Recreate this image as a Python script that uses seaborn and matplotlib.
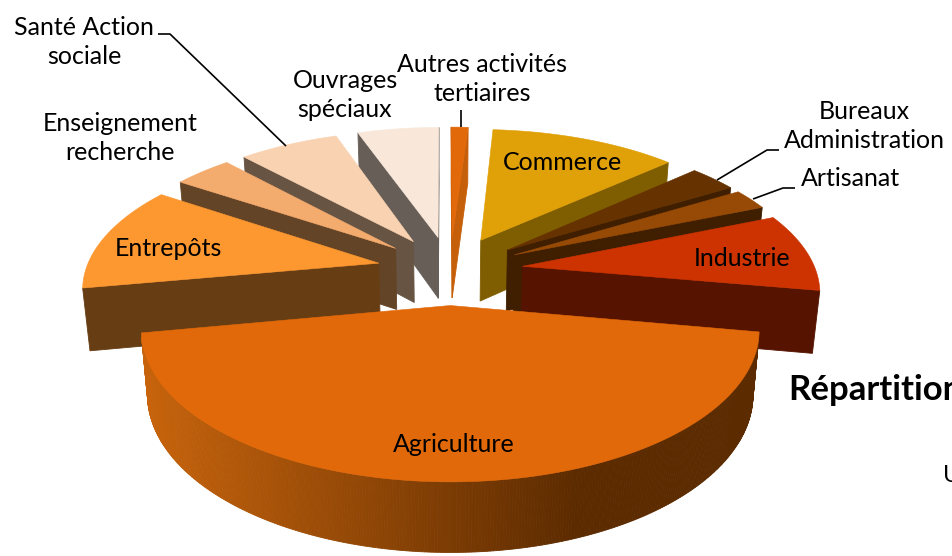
import numpy as np
import matplotlib
matplotlib.use('Agg')
import matplotlib.pyplot as plt
import seaborn as sns

# Parts (%), sens anti-horaire depuis Industrie
categories = ['Industrie', 'Artisanat', 'Bureaux Administration', 'Commerce',
              'Autres activités tertiaires', 'Ouvrages spéciaux',
              'Santé Action sociale', 'Enseignement recherche',
              'Entrepôts', 'Agriculture']
valeurs = [9.0, 2.4, 3.1, 12.2, 1.1, 5.3, 6.5, 3.8, 12.2, 44.3]

couleurs_dessus = ['#cc3300', '#974a05', '#653200', '#e0a008', '#e2690a',
                   '#f9e8da', '#f9d3b1', '#f4ab6e', '#fd9730', '#e2690a']
couleurs_cote = ['#551300', '#3f1f00', '#3f1f00', '#7f5e02', '#c55f0a',
                 '#675e57', '#675443', '#644426', '#673d14', '#5c2b00']

# Reglages de la vue en perspective
ANGLE_DEPART = -10
EXPLOSION = 0.25
CX, CY = 450, 270
FOCALE = 6.43
HAUTEUR = 878
UNITE = 293
EPAISSEUR = 62

sns.set_theme(style='white')
plt.rcParams['font.family'] = ['Lato', 'DejaVu Sans']


def projette(x, y, bas=False):
    """Plan du camembert -> pixels de l'image"""
    x, y = np.asarray(x, float), np.asarray(y, float)
    s = FOCALE / (FOCALE + y)
    px = CX + x * s * UNITE
    py = CY - HAUTEUR * y / (FOCALE + y)
    if bas:
        px = CX + (px - CX) * 0.98
        py = py + EPAISSEUR * s ** 0.6
    return px, py


def dessine_part(ax, debut, fin, dessus, cote, degrade=False):
    milieu = np.radians((debut + fin) / 2)
    ax0 = EXPLOSION * np.cos(milieu)
    ay0 = EXPLOSION * np.sin(milieu)
    t = np.radians(np.linspace(debut, fin, max(int(fin - debut) * 2, 8)))
    bx = np.r_[ax0, ax0 + np.cos(t)]
    by = np.r_[ay0, ay0 + np.sin(t)]
    hx, hy = projette(bx, by)
    lx, ly = projette(bx, by, bas=True)

    # faces laterales, du fond vers l'avant
    n = len(bx)
    faces = []
    for i in range(n):
        j = (i + 1) % n
        # on saute les faces tournees vers le fond
        aire = (hx[j] - hx[i]) * (ly[i] - hy[i]) - (hy[j] - hy[i]) * (lx[i] - hx[i])
        if aire < 0:
            continue
        faces.append(((by[i] + by[j]) / 2, i, j))
    for _, i, j in sorted(faces, reverse=True):
        coul = cote
        if degrade:
            f = np.clip((hx[i] - 140) / (575 - 140), 0, 1)
            c1 = np.array(matplotlib.colors.to_rgb('#c8640c'))
            c2 = np.array(matplotlib.colors.to_rgb(cote))
            coul = tuple(c1 + (c2 - c1) * f)
        ax.fill([hx[i], hx[j], lx[j], lx[i]], [hy[i], hy[j], ly[j], ly[i]],
                color=coul, lw=0.6)
    ax.fill(hx, hy, color=dessus, lw=0.4)


fig = plt.figure(figsize=(9.52, 5.56), dpi=100)
ax = fig.add_axes([0, 0, 1, 1])
ax.set_xlim(0, 952)
ax.set_ylim(556, 0)
ax.axis('off')

palette_dessus = sns.color_palette(couleurs_dessus)
palette_cote = sns.color_palette(couleurs_cote)

# angles de chaque part a partir des valeurs
parts = np.array(valeurs) / sum(valeurs) * 360
fins = ANGLE_DEPART + np.cumsum(parts)
debuts = fins - parts
milieux = np.radians((debuts + fins) / 2)

# on peint du fond vers l'avant
for k in np.argsort(-np.sin(milieux)):
    dessine_part(ax, debuts[k], fins[k], palette_dessus[k], palette_cote[k],
                 degrade=categories[k] == 'Agriculture')

# Traits de rappel
for xs, ys in [([158, 170, 286], [34, 34, 146]),
               ([779, 767, 717], [150, 150, 180]),
               ([795, 783, 753], [188, 188, 199]),
               ([461, 461], [110, 127])]:
    ax.plot(xs, ys, color='black', lw=1.2, solid_capstyle='butt')

# Etiquettes
taille = 18
etiquettes = [('Santé Action\nsociale', 84, 42), ('Enseignement\nrecherche', 120, 138),
              ('Ouvrages\nspéciaux', 345, 95), ('Autres activités\ntertiaires', 482, 79),
              ('Bureaux\nAdministration', 864, 126), ('Artisanat', 850, 179),
              ('Commerce', 563, 163), ('Industrie', 742, 258),
              ('Entrepôts', 168, 249), ('Agriculture', 454, 444)]
for texte, x, y in etiquettes:
    ax.text(x, y, texte, ha='center', va='center', fontsize=taille,
            linespacing=1.35, color='black')

ax.text(788, 390, 'Répartition', ha='left', va='center', fontsize=25,
        fontweight='bold', color='black')
ax.text(943, 475, 'U', ha='left', va='center', fontsize=17, color='black')

fig.savefig('out.png', dpi=100)
